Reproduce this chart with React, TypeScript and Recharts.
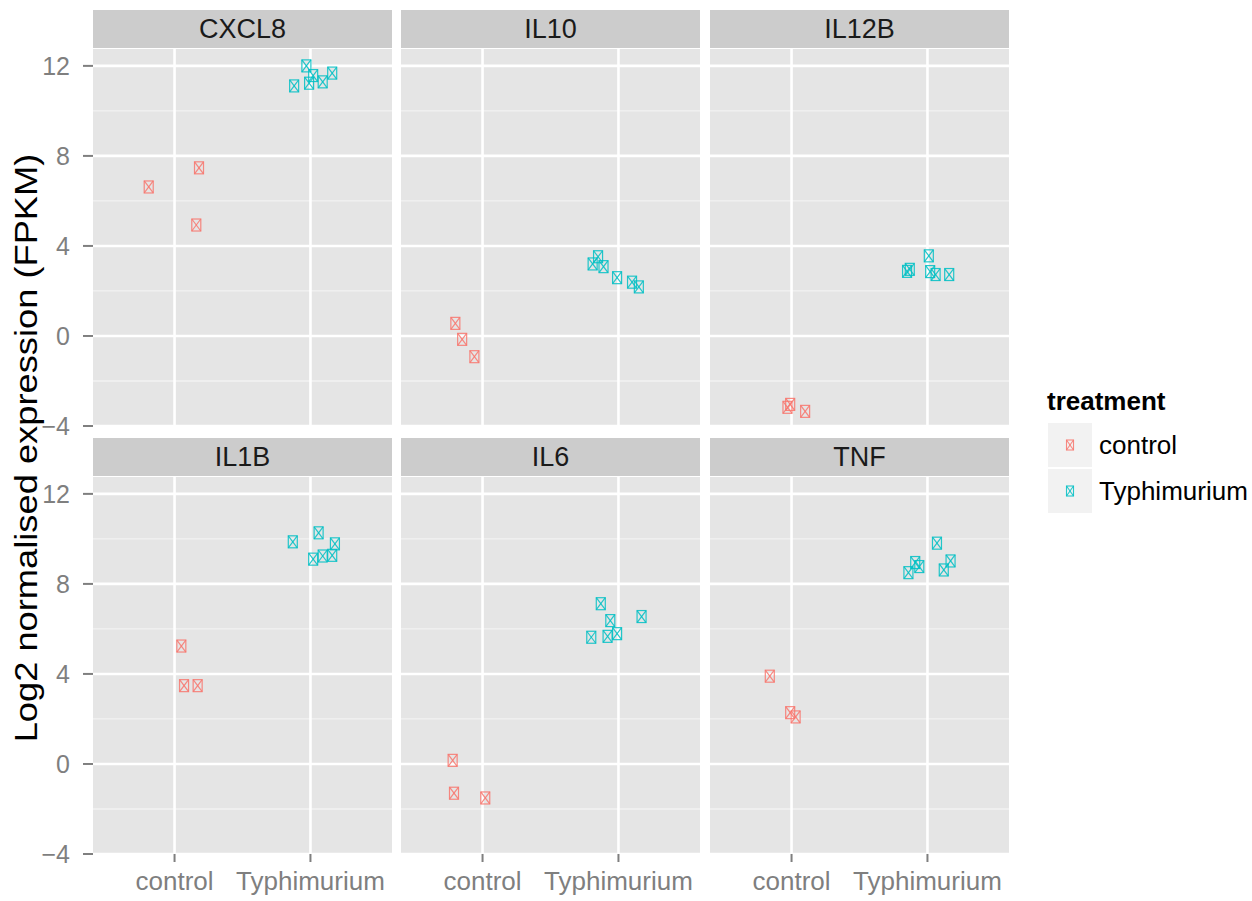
import React from "react";
import { ScatterChart, Scatter, XAxis, YAxis, CartesianGrid } from "recharts";

const genes = ["CXCL8", "IL10", "IL12B", "IL1B", "IL6", "TNF"];
const treatments = ["control", "Typhimurium"];
const yTicks = [-4, 0, 4, 8, 12];
const yMinor = [-2, 2, 6, 10];
const xTicks = [1, 2];

// [jittered x (1 = control, 2 = Typhimurium), log2 FPKM]
const cxcl8Control = [[0.81, 6.62], [1.18, 7.47], [1.16, 4.93]];
const cxcl8Typhimurium = [[1.97, 12.0], [2.02, 11.57], [1.88, 11.11], [1.99, 11.23], [2.09, 11.29], [2.16, 11.68]];
const il10Control = [[0.8, 0.56], [0.85, -0.15], [0.94, -0.92]];
const il10Typhimurium = [[1.85, 3.52], [1.81, 3.2], [1.89, 3.08], [1.99, 2.59], [2.1, 2.39], [2.15, 2.18]];
const il12bControl = [[0.99, -3.04], [0.97, -3.17], [1.1, -3.35]];
const il12bTyphimurium = [[2.01, 3.56], [1.87, 2.96], [1.85, 2.87], [2.02, 2.86], [2.06, 2.73], [2.16, 2.73]];
const il1bControl = [[1.05, 5.24], [1.07, 3.48], [1.17, 3.48]];
const il1bTyphimurium = [[1.87, 9.87], [2.06, 10.27], [2.18, 9.78], [2.02, 9.1], [2.09, 9.24], [2.16, 9.27]];
const il6Control = [[0.78, 0.16], [0.79, -1.3], [1.02, -1.51]];
const il6Typhimurium = [[1.87, 7.12], [1.94, 6.37], [2.17, 6.55], [1.8, 5.63], [1.92, 5.67], [1.99, 5.79]];
const tnfControl = [[0.84, 3.9], [0.99, 2.28], [1.03, 2.09]];
const tnfTyphimurium = [[2.07, 9.81], [2.17, 9.02], [1.91, 8.95], [1.94, 8.77], [1.86, 8.5], [2.12, 8.62]];

const controlSets = [cxcl8Control, il10Control, il12bControl, il1bControl, il6Control, tnfControl];
const typhSets = [cxcl8Typhimurium, il10Typhimurium, il12bTyphimurium, il1bTyphimurium, il6Typhimurium, tnfTyphimurium];

const RED = "#F8766D";
const TEAL = "#00BFC4";
const FONT = "'Liberation Sans', Arial, Helvetica, sans-serif";

const colLeft = [93, 401, 710];
const rowTop = [49, 477];
const PW = 299;
const PH = 377;
const Y_AXIS_W = 93;
const X_AXIS_H = 47;
const LABEL_PAD = 14; // room below the top row so the -4 label isn't clipped

const toPoints = (arr: number[][]) => arr.map(([x, y]) => ({ x, y }));

const boxCross = (color: string, w: number, h: number) => (props: any) => {
  const { cx, cy } = props;
  if (cx == null || cy == null) return <g />;
  const x0 = cx - w / 2;
  const y0 = cy - h / 2;
  return (
    <g stroke={color} strokeWidth={1.2} fill="none" strokeOpacity={0.85}>
      <rect x={x0} y={y0} width={w} height={h} />
      <line x1={x0} y1={y0} x2={x0 + w} y2={y0 + h} />
      <line x1={x0 + w} y1={y0} x2={x0} y2={y0 + h} />
    </g>
  );
};

function Panel({ index }: { index: number }) {
  const col = index % 3;
  const row = Math.floor(index / 3);
  const showY = col === 0;
  const showX = row === 1;
  const left = colLeft[col];
  const top = rowTop[row];
  const yW = showY ? Y_AXIS_W : 0;
  const xH = showX ? X_AXIS_H : 0;
  const pad = !showX && showY ? LABEL_PAD : 0;

  return (
    <>
      <div
        style={{
          position: "absolute",
          left,
          top: top - 39,
          width: PW,
          height: 38,
          background: "#CCCCCC",
          color: "#1A1A1A",
          fontSize: 27,
          lineHeight: "38px",
          textAlign: "center",
        }}
      >
        {genes[index]}
      </div>
      <div style={{ position: "absolute", left: left - yW, top }}>
        <ScatterChart
          width={PW + yW}
          height={PH + xH + pad}
          margin={{ top: 0, right: 0, bottom: pad, left: 0 }}
        >
          <CartesianGrid
            fill="#E5E5E5"
            stroke="#F2F2F2"
            strokeWidth={1.3}
            horizontalValues={yMinor}
            vertical={false}
          />
          <CartesianGrid
            stroke="#FFFFFF"
            strokeWidth={2.6}
            horizontalValues={yTicks}
            verticalValues={xTicks}
          />
          <XAxis
            type="number"
            dataKey="x"
            domain={[0.4, 2.6]}
            ticks={xTicks}
            allowDataOverflow
            hide={!showX}
            height={X_AXIS_H}
            axisLine={false}
            tickSize={8}
            tickMargin={10}
            tickLine={{ stroke: "#7F7F7F", strokeWidth: 2 }}
            tick={{ fill: "#7F7F7F", fontSize: 26, fontFamily: FONT }}
            tickFormatter={(v) => treatments[v - 1]}
            interval={0}
          />
          <YAxis
            type="number"
            dataKey="y"
            domain={[-4, 12.75]}
            ticks={yTicks}
            allowDataOverflow
            hide={!showY}
            width={Y_AXIS_W}
            axisLine={false}
            tickSize={10}
            tickMargin={13}
            tickLine={{ stroke: "#7F7F7F", strokeWidth: 2 }}
            tick={{ fill: "#7F7F7F", fontSize: 25, fontFamily: FONT }}
            tickFormatter={(v) => (v < 0 ? `\u2212${-v}` : `${v}`)}
            interval={0}
          />
          <Scatter
            data={toPoints(controlSets[index])}
            shape={boxCross(RED, 9, 12)}
            isAnimationActive={false}
          />
          <Scatter
            data={toPoints(typhSets[index])}
            shape={boxCross(TEAL, 9, 12)}
            isAnimationActive={false}
          />
        </ScatterChart>
      </div>
    </>
  );
}

function LegendKey({ color }: { color: string }) {
  return (
    <svg width={44} height={44} style={{ display: "block" }}>
      <rect x={0} y={0} width={44} height={44} fill="#F2F2F2" />
      <g stroke={color} strokeWidth={1.1} fill="none" strokeOpacity={0.85}>
        <rect x={18.5} y={17} width={7} height={10} />
        <line x1={18.5} y1={17} x2={25.5} y2={27} />
        <line x1={25.5} y1={17} x2={18.5} y2={27} />
      </g>
    </svg>
  );
}

export default function App() {
  return (
    <div
      style={{
        position: "absolute",
        left: 0,
        top: 0,
        width: 1252,
        height: 901,
        background: "#FFFFFF",
        fontFamily: FONT,
        overflow: "hidden",
      }}
    >
      {genes.map((g, i) => (
        <Panel key={g} index={i} />
      ))}

      <div
        style={{
          position: "absolute",
          left: 27,
          top: 448,
          transform: "translate(-50%, -50%) rotate(-90deg) scaleX(1.17)",
          whiteSpace: "nowrap",
          fontSize: 31,
          color: "#000000",
        }}
      >
        Log2 normalised expression (FPKM)
      </div>

      <div
        style={{
          position: "absolute",
          left: 1047,
          top: 386,
          fontSize: 26,
          fontWeight: "bold",
          color: "#000000",
        }}
      >
        treatment
      </div>
      {treatments.map((t, i) => (
        <div
          key={t}
          style={{
            position: "absolute",
            left: 1048,
            top: 423 + i * 46,
            height: 44,
            display: "flex",
            alignItems: "center",
          }}
        >
          <LegendKey color={i === 0 ? RED : TEAL} />
          <span style={{ marginLeft: 7, fontSize: 26, color: "#000000" }}>{t}</span>
        </div>
      ))}
    </div>
  );
}
